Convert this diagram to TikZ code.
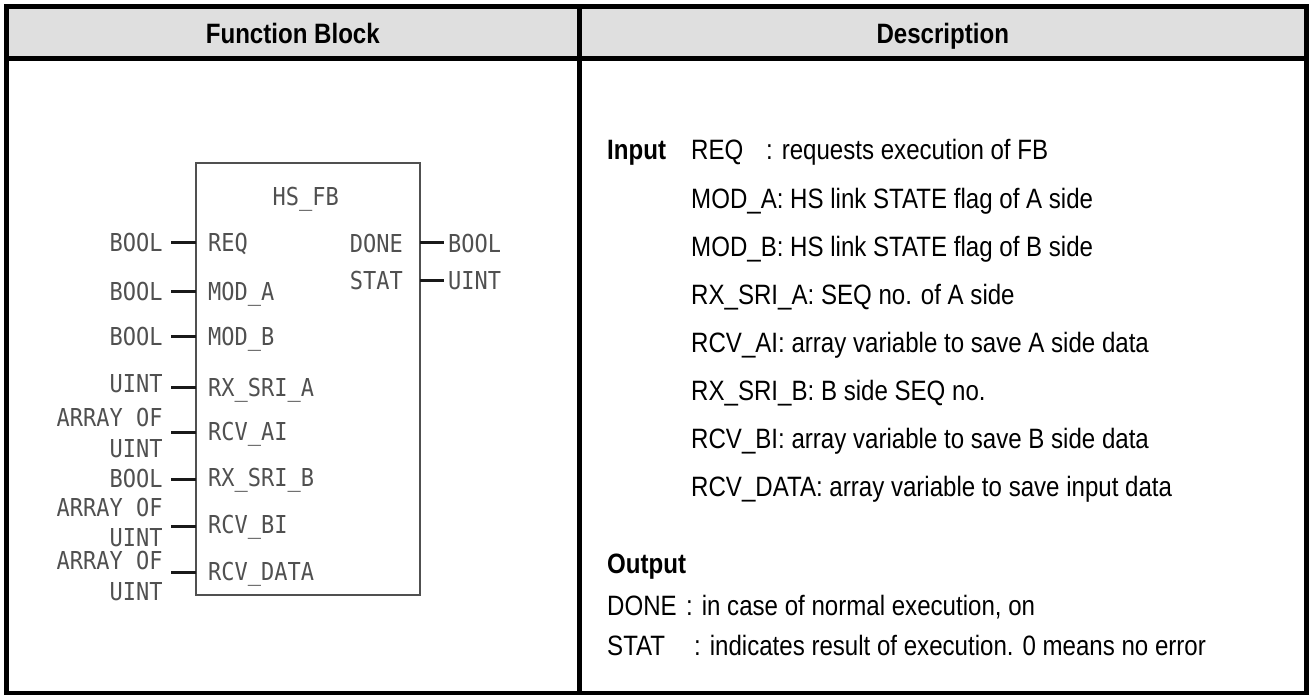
\documentclass[tikz,border=0pt]{standalone}
\usepackage{fontspec}
\setmainfont{Liberation Sans}
\newfontfamily\descfont[FakeStretch=0.86]{Liberation Sans}
\newfontfamily\fbfont[FakeStretch=0.89]{DejaVu Sans Mono}
\definecolor{hdrgray}{RGB}{223,223,223}
\definecolor{fbgray}{RGB}{80,80,80}
\definecolor{stubcol}{RGB}{25,25,25}
\begin{document}
\begin{tikzpicture}[x=1pt,y=-1pt,
  frame/.style={line width=5pt,black},
  desc/.style={anchor=base west,inner sep=0pt,font=\descfont\fontsize{28}{30}\selectfont},
  descb/.style={desc,font=\descfont\bfseries\fontsize{28}{30}\selectfont},
  hdr/.style={anchor=base,inner sep=0pt,font=\descfont\bfseries\fontsize{28}{30}\selectfont},
  fbl/.style={inner sep=0pt,text=fbgray,text height=18pt,text depth=0pt,font=\fbfont\fontsize{24.7}{31}\selectfont},
  lpin/.style={fbl,anchor=base east},
  rpin/.style={fbl,anchor=base west},
  stub/.style={line width=3pt,stubcol},
  fbbox/.style={draw=fbgray,line width=2pt}]
\useasboundingbox (0,0) rectangle (1309,695);
% header
\fill[hdrgray] (6.5,6.5) rectangle (1306.5,58.5);
\draw[frame] (6.5,58.5) -- (1306.5,58.5);
\draw[frame] (579.2,6.5) -- (579.2,693.5);
\draw[frame] (6.5,6.5) rectangle (1306.5,693.5);
\node[hdr] (h1) at (292.8,44) {Function Block};
\node[hdr] (h2) at (942.8,44) {Description};
% function block
\draw[fbbox] (195.7,163) rectangle (420,595);
\node[fbl,anchor=base] (title) at (305.7,205.7) {HS\_FB};
% input pins (box edge coordinates and stub ends)
\foreach \n/\y in {a/242.7,b/291.7,c/336.7,d/387.3,e/432.3,f/479,g/526,h/572.7}{
  \coordinate (in\n) at (195.7,\y);
  \coordinate (ie\n) at (170.5,\y);
  \draw[stub] (in\n) -- (ie\n);
}
\foreach \n/\y in {a/242.7,b/280.7}{
  \coordinate (out\n) at (420,\y);
  \coordinate (oe\n) at (443.5,\y);
  \draw[stub] (out\n) -- (oe\n);
}
% left type labels
\node[lpin] (ta) at (162.7,251.7) {BOOL};
\node[lpin] (tb) at (162.7,300.7) {BOOL};
\node[lpin] (tc) at (162.7,345.7) {BOOL};
\node[lpin] (td) at (162.7,392) {UINT};
\node[lpin] (te1) at (162.7,426) {ARRAY OF};
\node[lpin] (te2) at (162.7,457) {UINT};
\node[lpin] (tf) at (162.7,487.3) {BOOL};
\node[lpin] (tg1) at (162.7,516) {ARRAY OF};
\node[lpin] (tg2) at (162.7,546) {UINT};
\node[lpin] (th1) at (162.7,569) {ARRAY OF};
\node[lpin] (th2) at (162.7,600) {UINT};
% input names
\node[rpin] (na) at (208,251.7) {REQ};
\node[rpin] (nb) at (208,300.7) {MOD\_A};
\node[rpin] (nc) at (208,345.7) {MOD\_B};
\node[rpin] (nd) at (208,396.3) {RX\_SRI\_A};
\node[rpin] (ne) at (208,440.7) {RCV\_AI};
\node[rpin] (nf) at (208,486.3) {RX\_SRI\_B};
\node[rpin] (ng) at (208,533) {RCV\_BI};
\node[rpin] (nh) at (208,580.7) {RCV\_DATA};
% outputs
\node[lpin] (oa) at (403,252) {DONE};
\node[lpin] (ob) at (403,289) {STAT};
\node[rpin] (ra) at (448,252) {BOOL};
\node[rpin] (rb) at (448,289) {UINT};
% description
\node[descb] (inp) at (607,160) {Input};
\node[desc] (d1) at (691,160) {REQ};
\node[desc] (d1b) at (766,160) {: requests execution of FB};
\node[desc] (d2) at (691,208) {MOD\_A: HS link STATE flag of A side};
\node[desc] (d3) at (691,256) {MOD\_B: HS link STATE flag of B side};
\node[desc] (d4) at (691,304) {RX\_SRI\_A: SEQ no. of A side};
\node[desc] (d5) at (691,352) {RCV\_AI: array variable to save A side data};
\node[desc] (d6) at (691,400) {RX\_SRI\_B: B side SEQ no.};
\node[desc] (d7) at (691,448) {RCV\_BI: array variable to save B side data};
\node[desc] (d8) at (691,496) {RCV\_DATA: array variable to save input data};
\node[descb] (outp) at (607,573) {Output};
\node[desc] (o1) at (607,615) {DONE};
\node[desc] (o1b) at (686,615) {: in case of normal execution, on};
\node[desc] (o2) at (607,655) {STAT};
\node[desc] (o2b) at (694,655) {: indicates result of execution. 0 means no error};
\end{tikzpicture}
\end{document}
